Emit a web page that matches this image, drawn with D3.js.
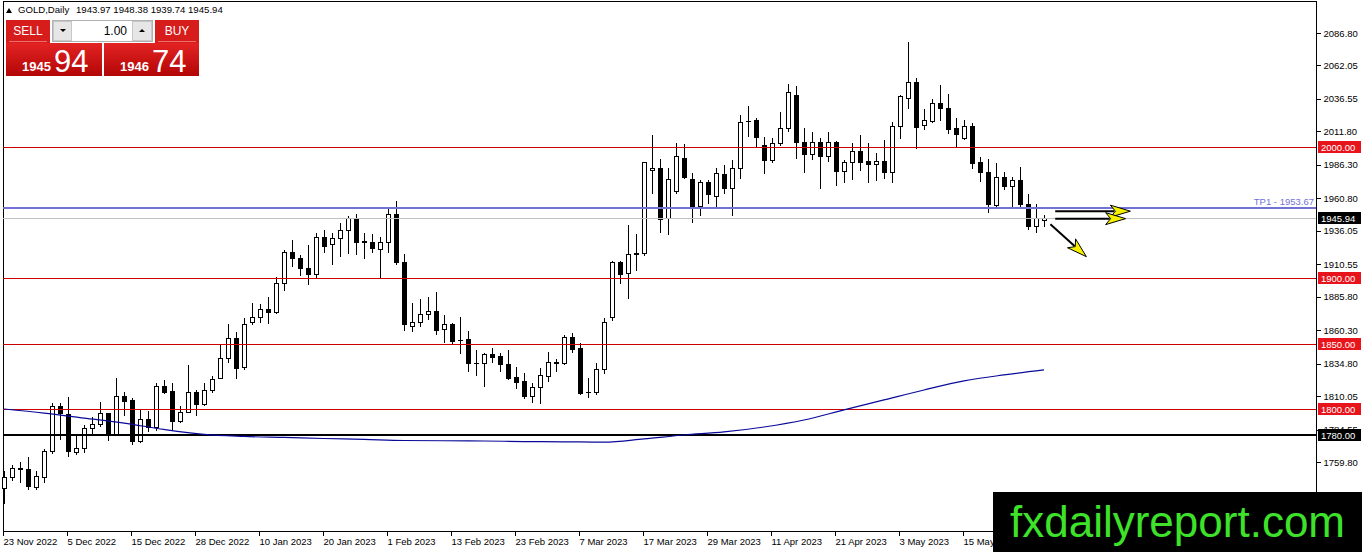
<!DOCTYPE html>
<html><head><meta charset="utf-8">
<script src="https://cdn.jsdelivr.net/npm/d3@7"></script>
<style>
html,body{margin:0;padding:0;background:#fff;overflow:hidden;}
svg{display:block;}
text{font-family:Tahoma,"Liberation Sans",Arial,sans-serif;}
</style></head><body>
<svg id="c" width="1362" height="552"></svg>
<script>
// ---- data (GOLD, Daily) ----
const opens  = [1740.0,1748.6,1755.5,1754.5,1741.0,1748.6,1768.2,1802.8,1796.4,1767.7,1770.3,1785.5,1788.6,1797.0,1781.2,1810.1,1807.1,1776.1,1792.4,1786.8,1817.8,1814.0,1791.3,1798.2,1813.0,1803.8,1814.7,1824.1,1838.9,1854.1,1832.5,1866.8,1870.6,1876.2,1874.4,1896.0,1919.7,1915.1,1907.5,1903.2,1931.1,1925.9,1930.4,1936.4,1945.6,1928.3,1927.4,1922.1,1927.4,1949.2,1912.2,1863.7,1866.8,1872.4,1874.9,1861.0,1865.0,1853.0,1853.3,1835.6,1835.5,1841.9,1840.6,1834.3,1824.9,1821.6,1810.4,1816.8,1825.6,1835.4,1835.0,1855.3,1846.5,1813.2,1813.0,1830.5,1870.1,1912.2,1903.5,1918.2,1918.8,1982.7,1983.8,1945.9,1966.6,1991.3,1975.5,1954.9,1973.5,1962.8,1979.1,1968.4,1983.7,2019.4,2020.5,2001.4,1990.0,2002.7,2014.2,2039.5,2003.5,1994.3,2003.9,1993.3,2003.5,1981.8,1988.1,1996.9,1989.2,1986.7,1989.2,1981.1,2016.0,2037.0,2049.2,2016.7,2020.0,2033.2,2029.9,2014.2,2007.0,2016.2,1988.4,1980.6,1955.7,1976.8,1970.4,1974.8,1956.4,1939.9,1943.97];
const highs  = [1753.0,1757.5,1760.1,1763.4,1753.0,1769.8,1804.6,1804.6,1809.2,1779.7,1788.0,1794.4,1805.3,1797.5,1823.6,1813.4,1808.4,1799.5,1799.0,1820.3,1822.3,1819.8,1802.5,1833.8,1814.7,1820.3,1825.6,1849.0,1865.0,1859.0,1869.4,1880.8,1880.3,1885.8,1900.6,1921.4,1928.7,1917.6,1925.2,1934.6,1936.9,1934.3,1941.8,1947.3,1948.6,1934.3,1933.7,1931.1,1953.0,1958.6,1918.2,1881.3,1883.8,1885.8,1889.2,1871.9,1866.0,1870.1,1859.6,1845.2,1842.6,1846.5,1842.6,1845.2,1832.5,1827.4,1819.8,1831.3,1843.5,1838.1,1856.6,1858.1,1850.8,1823.6,1835.1,1869.4,1913.0,1913.0,1940.7,1933.5,1988.6,2009.0,1990.9,1983.8,2003.2,2002.2,1979.8,1974.8,1974.8,1983.6,1986.2,1990.0,2024.3,2031.2,2022.0,2007.8,2006.5,2026.8,2047.9,2046.6,2014.2,2011.1,2007.0,2011.1,2004.5,1990.0,2002.7,2009.0,2002.7,1995.1,2005.2,2018.7,2039.5,2080.2,2052.7,2028.9,2036.5,2047.2,2040.1,2021.8,2020.5,2018.0,1992.5,1990.9,1987.9,1981.1,1976.8,1984.4,1964.1,1956.4,1948.38];
const lows   = [1728.6,1746.1,1744.8,1739.0,1739.0,1744.8,1767.0,1777.4,1764.6,1766.0,1767.7,1781.7,1787.5,1776.6,1781.0,1795.7,1773.4,1775.0,1783.7,1784.0,1812.5,1784.0,1790.5,1797.7,1795.7,1803.0,1813.4,1823.6,1836.3,1824.1,1830.7,1864.8,1866.8,1866.0,1873.2,1890.9,1909.5,1902.4,1895.4,1900.3,1919.7,1910.6,1916.9,1919.0,1918.0,1915.6,1919.7,1900.3,1919.7,1910.6,1860.4,1859.9,1863.7,1868.6,1857.4,1851.5,1850.3,1842.6,1829.4,1826.2,1817.8,1836.3,1829.2,1822.9,1816.5,1808.4,1805.8,1804.6,1821.8,1829.4,1834.8,1843.9,1811.7,1809.2,1811.7,1827.4,1868.0,1895.9,1885.1,1906.2,1917.5,1965.0,1934.9,1933.4,1964.6,1976.5,1943.0,1948.2,1957.4,1953.9,1965.0,1948.2,1976.0,2008.3,2000.1,1980.3,1988.3,2001.5,2012.0,1991.3,1980.6,1990.8,1968.4,1989.2,1971.0,1973.5,1975.3,1982.4,1973.1,1975.0,1976.0,1973.5,2007.0,2029.4,1998.9,2013.4,2018.7,2020.5,2010.3,2000.1,2006.0,1984.1,1974.2,1950.6,1954.4,1967.6,1953.9,1955.0,1937.4,1935.4,1939.74];
const closes = [1748.4,1755.0,1754.5,1741.5,1749.2,1768.5,1802.8,1797.0,1768.2,1770.3,1785.5,1788.6,1797.4,1781.2,1810.1,1806.6,1776.1,1792.4,1786.8,1817.8,1813.4,1791.3,1797.7,1813.0,1803.8,1814.7,1823.1,1838.9,1854.1,1831.7,1864.8,1870.6,1876.2,1874.4,1896.0,1919.7,1915.1,1908.0,1903.2,1931.1,1924.8,1930.4,1936.4,1945.6,1927.8,1927.5,1922.8,1927.4,1949.2,1912.2,1864.8,1866.8,1872.6,1874.9,1860.4,1865.0,1852.3,1852.5,1835.0,1835.2,1841.9,1840.1,1834.3,1824.1,1821.1,1810.1,1816.8,1826.2,1835.8,1836.0,1855.3,1845.7,1812.7,1813.0,1830.5,1866.8,1912.5,1903.0,1918.0,1918.8,1988.1,1984.2,1945.2,1975.2,1993.0,1977.3,1954.9,1973.5,1963.8,1979.8,1968.4,1983.7,2019.2,2020.0,2007.3,1990.0,2002.7,2014.2,2041.8,2003.5,1994.3,2003.9,1993.3,2003.5,1981.8,1988.1,1996.9,1988.1,1986.7,1989.2,1981.1,2016.0,2038.8,2049.2,2015.4,2020.5,2033.2,2029.4,2013.6,2009.6,2016.2,1987.9,1980.6,1956.4,1976.8,1970.4,1974.8,1956.4,1939.9,1945.6,1945.94];

// moving average readings (bar index, value)
const maIdx = [0,5,10,15,20,25,30,35,40,45,50,55,60,65,70,75,80,85,90,95,100,105,110,115,120,125,130];
const maVal = [1800.2,1797.1,1793.3,1789.5,1784.6,1780.8,1779.3,1778.5,1777.7,1777.0,1776.2,1776.0,1775.8,1775.4,1775.2,1774.9,1777.4,1780.4,1782.7,1786.5,1791.8,1799.5,1807.1,1814.7,1821.6,1826.2,1830.0];

const tickIdx = [0,8,16,24,32,40,48,56,64,72,80,88,96,104,112,120];
const tickLabels = ["23 Nov 2022","5 Dec 2022","15 Dec 2022","28 Dec 2022","10 Jan 2023","20 Jan 2023","1 Feb 2023","13 Feb 2023","23 Feb 2023","7 Mar 2023","17 Mar 2023","29 Mar 2023","11 Apr 2023","21 Apr 2023","3 May 2023","15 May 2023"];
const priceTicks = [2086.80,2062.05,2036.55,2011.80,1986.30,1960.80,1936.05,1910.55,1885.80,1860.30,1834.80,1810.05,1784.55,1759.80];

const redLevels = [2000.00,1900.00,1850.00,1800.00];
const supportLevel = 1780.00;
const tpLevel = 1953.67;
const bidPrice = 1945.94;
const askPrice = 1946.74;
const ohlcHeader = [1943.97,1948.38,1939.74,1945.94];
const lotSize = "1.00";

// arrows: [bar index, price] from -> to
const arrows = [
  {from:[131.4,1951.0], to:[140.8,1951.0]},
  {from:[131.4,1945.3], to:[140.2,1945.3]},
  {from:[130.8,1941.0], to:[135.3,1916.3]}
];

// ---- drawing ----
const svg = d3.select('#c');
const X0=3, X1=1316, Y0=1, Y1=531;
const x = d3.scaleLinear().domain([0,130]).range([4,1044]);
const y = d3.scaleLinear().domain([1759.80,2086.80]).range([462,33]);
const px = v => Math.round(x(v))+0.5;
const py = v => Math.round(y(v))+0.5;

const defs = svg.append('defs');
const gr = defs.append('linearGradient').attr('id','rg').attr('x1',0).attr('y1',0).attr('x2',0).attr('y2',1);
gr.append('stop').attr('offset','0%').attr('stop-color','#e42323');
gr.append('stop').attr('offset','100%').attr('stop-color','#b20606');

// frame
svg.append('rect').attr('x',X0+0.5).attr('y',Y0+0.5).attr('width',X1-X0).attr('height',Y1-Y0)
  .attr('fill','none').attr('stroke','#000').attr('shape-rendering','crispEdges');

// candles
const data = d3.range(opens.length).map(i=>({i,o:opens[i],h:highs[i],l:lows[i],c:closes[i]}));
const cg = svg.append('g').attr('shape-rendering','crispEdges');
cg.selectAll('line.wick').data(data).join('line').attr('class','wick')
  .attr('x1',d=>px(d.i)).attr('x2',d=>px(d.i))
  .attr('y1',d=>Math.round(y(d.h))).attr('y2',d=>Math.round(y(d.l))+1)
  .attr('stroke','#000');
data.forEach(d=>{
  const top = Math.round(y(Math.max(d.o,d.c)));
  const bot = Math.round(y(Math.min(d.o,d.c)));
  const cx = Math.round(x(d.i));
  if (bot-top < 1) {
    cg.append('line').attr('x1',cx-2).attr('x2',cx+3).attr('y1',top+0.5).attr('y2',top+0.5).attr('stroke','#000');
  } else {
    cg.append('rect').attr('x',cx-1.5).attr('width',4).attr('y',top+0.5).attr('height',bot-top)
      .attr('fill',d.c>=d.o?'#fff':'#000').attr('stroke','#000');
  }
});

// levels
const lg = svg.append('g').attr('shape-rendering','crispEdges');
lg.selectAll('line.red').data(redLevels).join('line')
  .attr('x1',X0).attr('x2',X1).attr('y1',d=>py(d)).attr('y2',d=>py(d)).attr('stroke','#cc0000');
lg.append('line').attr('x1',X0).attr('x2',X1).attr('y1',Math.round(y(supportLevel))).attr('y2',Math.round(y(supportLevel)))
  .attr('stroke','#000').attr('stroke-width',2);
lg.append('line').attr('x1',X0).attr('x2',X1).attr('y1',Math.round(y(tpLevel))).attr('y2',Math.round(y(tpLevel)))
  .attr('stroke','#7272d6').attr('stroke-width',2);
lg.append('line').attr('x1',X0).attr('x2',X1).attr('y1',py(bidPrice)).attr('y2',py(bidPrice)).attr('stroke','#c0c0c0');
svg.append('text').attr('x',X1-2).attr('y',Math.round(y(tpLevel))-3).attr('text-anchor','end')
  .attr('font-size','9.5px').attr('fill','#7272d6').text('TP1 - ' + tpLevel.toFixed(2));

// moving average
svg.append('path').datum(maIdx.map((k,j)=>[k,maVal[j]]))
  .attr('d',d3.line().x(d=>x(d[0])).y(d=>y(d[1])).curve(d3.curveMonotoneX))
  .attr('fill','none').attr('stroke','#0a0a9a').attr('stroke-width',1.2);

// arrows
const ag = svg.append('g');
arrows.forEach(a=>{
  const x1=x(a.from[0]), y1=y(a.from[1]), x2=x(a.to[0]), y2=y(a.to[1]);
  const dx=x2-x1, dy=y2-y1, L=Math.hypot(dx,dy), ux=dx/L, uy=dy/L;
  const hl=20, hw=6;
  const bx=x2-ux*hl, by=y2-uy*hl;
  ag.append('line').attr('x1',x1).attr('y1',y1).attr('x2',bx+ux*4).attr('y2',by+uy*4)
    .attr('stroke','#000').attr('stroke-width',2);
  ag.append('path').attr('d',`M${x2},${y2}L${bx-uy*hw},${by+ux*hw}L${bx+ux*5},${by+uy*5}L${bx+uy*hw},${by-ux*hw}Z`)
    .attr('fill','#f5f000').attr('stroke','#000').attr('stroke-width',1);
});

// right axis
const ra = svg.append('g').attr('transform',`translate(${X1+0.5},0)`)
  .call(d3.axisRight(y).tickValues(priceTicks).tickSize(4).tickPadding(3).tickFormat(d=>d.toFixed(2)));
ra.select('.domain').remove();
ra.selectAll('text').attr('font-size','9.5px').attr('fill','#000').attr('font-family','Tahoma,"Liberation Sans",Arial,sans-serif');
ra.selectAll('line').attr('stroke','#000').attr('shape-rendering','crispEdges');

// bottom axis
const ba = svg.append('g').attr('transform',`translate(0,${Y1+0.5})`)
  .call(d3.axisBottom(x).tickValues(tickIdx).tickSize(4).tickPadding(3).tickFormat((d,i)=>tickLabels[i]));
ba.select('.domain').remove();
ba.selectAll('text').attr('text-anchor','start').attr('x',-1).attr('font-size','9.5px').attr('fill','#000')
  .attr('font-family','Tahoma,"Liberation Sans",Arial,sans-serif');
ba.selectAll('line').attr('stroke','#000').attr('shape-rendering','crispEdges').attr('transform','translate(-1,0)');

// level labels on axis
const labs = [...redLevels.map(v=>({v,bg:'#e8141c'})),{v:supportLevel,bg:'#000'},{v:bidPrice,bg:'#000'}];
const lb = svg.append('g');
labs.forEach(l=>{
  const yy = Math.round(y(l.v));
  lb.append('rect').attr('x',X1+2).attr('y',yy-6).attr('width',43).attr('height',12).attr('fill',l.bg);
  lb.append('text').attr('x',X1+5).attr('y',yy+4).attr('font-size','9.5px').attr('fill','#fff').text(l.v.toFixed(2));
});

// header
svg.append('path').attr('d','M6,13L9,8L12,13Z').attr('fill','#000');
svg.append('text').attr('x',18).attr('y',13).attr('font-size','9.6px').attr('fill','#000').text('GOLD,Daily');
svg.append('text').attr('x',76).attr('y',13).attr('font-size','9.6px').attr('fill','#000')
  .text(ohlcHeader.map(v=>v.toFixed(2)).join(' '));

// one-click trading panel
const pg = svg.append('g');
pg.append('rect').attr('x',6).attr('y',20).attr('width',44).attr('height',23).attr('fill','#d71c1c');
pg.append('rect').attr('x',155).attr('y',20).attr('width',44).attr('height',23).attr('fill','#d71c1c');
pg.append('line').attr('x1',9).attr('x2',47).attr('y1',41.5).attr('y2',41.5).attr('stroke','#f07070');
pg.append('line').attr('x1',158).attr('x2',196).attr('y1',41.5).attr('y2',41.5).attr('stroke','#f07070');
pg.append('text').attr('x',28).attr('y',35).attr('text-anchor','middle').attr('font-size','12px').attr('fill','#fff').text('SELL');
pg.append('text').attr('x',177).attr('y',35).attr('text-anchor','middle').attr('font-size','12px').attr('fill','#fff').text('BUY');
pg.append('rect').attr('x',52.5).attr('y',20.5).attr('width',100).attr('height',21).attr('fill','#fff').attr('stroke','#b0b0b0');
pg.append('rect').attr('x',53.5).attr('y',21.5).attr('width',18).attr('height',19).attr('fill','#e6e6e6').attr('stroke','#c8c8c8');
pg.append('rect').attr('x',132.5).attr('y',21.5).attr('width',19).attr('height',19).attr('fill','#e6e6e6').attr('stroke','#c8c8c8');
pg.append('path').attr('d','M60,29L66,29L63,32Z').attr('fill','#000');
pg.append('path').attr('d','M139,32L145,32L142,29Z').attr('fill','#000');
pg.append('text').attr('x',127).attr('y',35).attr('text-anchor','end').attr('font-size','12px').attr('fill','#000').text(lotSize);
const bidStr = bidPrice.toFixed(2).split('.'), askStr = askPrice.toFixed(2).split('.');
pg.append('rect').attr('x',6).attr('y',43).attr('width',96).attr('height',33).attr('fill','url(#rg)');
pg.append('rect').attr('x',104).attr('y',43).attr('width',95).attr('height',33).attr('fill','url(#rg)');
pg.append('text').attr('x',22).attr('y',71).attr('font-size','13px').attr('font-weight','bold').attr('fill','#fff').text(bidStr[0]);
pg.append('text').attr('x',54).attr('y',72).attr('font-size','31px').attr('fill','#fff').text(bidStr[1]);
pg.append('text').attr('x',120).attr('y',71).attr('font-size','13px').attr('font-weight','bold').attr('fill','#fff').text(askStr[0]);
pg.append('text').attr('x',152).attr('y',72).attr('font-size','31px').attr('fill','#fff').text(askStr[1]);

// watermark
svg.append('rect').attr('x',993).attr('y',492).attr('width',369).attr('height',60).attr('fill','#000');
svg.append('text').attr('x',1010).attr('y',537).attr('font-size','44px').attr('fill','#3ee22a')
  .attr('font-family','"Liberation Sans",Arial,sans-serif').text('fxdailyreport.com');
</script>
</body></html>
